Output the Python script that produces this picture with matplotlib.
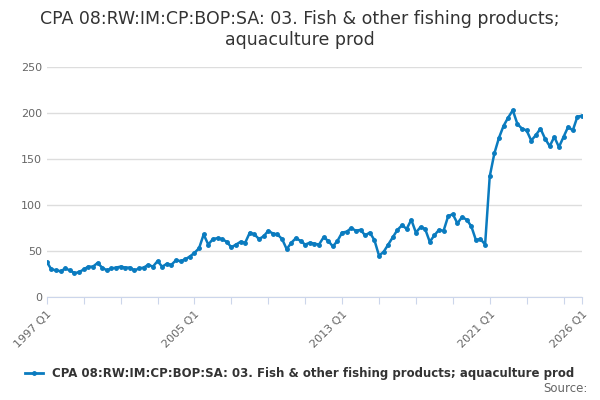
import matplotlib.pyplot as plt
import numpy as np

plt.rcParams['font.family'] = ['DejaVu Sans']

title = "CPA 08:RW:IM:CP:BOP:SA: 03. Fish & other fishing products;\naquaculture prod"
series_name = "CPA 08:RW:IM:CP:BOP:SA: 03. Fish & other fishing products; aquaculture prod"
start_year = 1997
values = [38, 30, 29, 28, 31, 29, 26, 27, 30, 33, 33, 37, 32, 29, 31, 32,
          33, 32, 32, 29, 31, 32, 35, 33, 39, 33, 36, 35, 40, 39, 41, 44,
          48, 53, 68, 57, 63, 64, 63, 60, 54, 57, 60, 59, 70, 68, 63, 66,
          72, 69, 68, 63, 52, 59, 64, 61, 57, 59, 58, 57, 65, 61, 55, 61,
          70, 71, 75, 72, 73, 67, 70, 62, 45, 49, 57, 65, 73, 78, 74, 84,
          70, 76, 74, 60, 67, 73, 72, 88, 90, 80, 87, 84, 77, 62, 63, 57,
          131, 156, 173, 186, 195, 203, 188, 183, 181, 170, 176, 183, 172, 164, 174, 163,
          174, 185, 181, 196, 197]
label_years = [1997, 2005, 2013, 2021, 2026]

x = np.arange(len(values))
fig = plt.figure(figsize=(6, 4), dpi=100)
ax = fig.add_axes([0.078, 0.2575, 0.892, 0.575])
ax.plot(x, values, color='#0a7bbf', lw=1.8, marker='o', ms=2.5)
ax.set_xlim(0, len(values) - 1)
ax.set_ylim(0, 250)
ax.set_yticks([0, 50, 100, 150, 200, 250])
ax.grid(axis='y', color='#dddddd', lw=1)
ax.set_axisbelow(True)
for s in ['top', 'right', 'left']:
    ax.spines[s].set_visible(False)
ax.spines['bottom'].set_color('#ccd6eb')

tick_pos = list(range(0, len(values), 8)) + [len(values) - 1]
ax.set_xticks(tick_pos)
labels = []
for p in tick_pos:
    yr = start_year + p // 4
    labels.append(f"{yr} Q1" if yr in label_years else "")
ax.set_xticklabels(labels, rotation=45, ha='right', rotation_mode='anchor')
ax.tick_params(axis='x', colors='#ccd6eb', labelcolor='#666666', labelsize=8, length=5)
ax.tick_params(axis='y', length=0, labelcolor='#666666', labelsize=8)

fig.suptitle(title, y=0.975, fontsize=12.5, color='#333333')
ax.plot([], [], color='#0a7bbf', lw=2, marker='o', ms=2.5, label=series_name)
fig.legend(*ax.get_legend_handles_labels(), loc='center', bbox_to_anchor=(0.5, 0.065),
           frameon=False, handlelength=1.5, prop={'weight': 'bold', 'size': 8.5},
           labelcolor='#333333')
fig.text(0.98, 0.02, "Source:", ha='right', fontsize=8.5, color='#666666')
fig.savefig('out.png')
